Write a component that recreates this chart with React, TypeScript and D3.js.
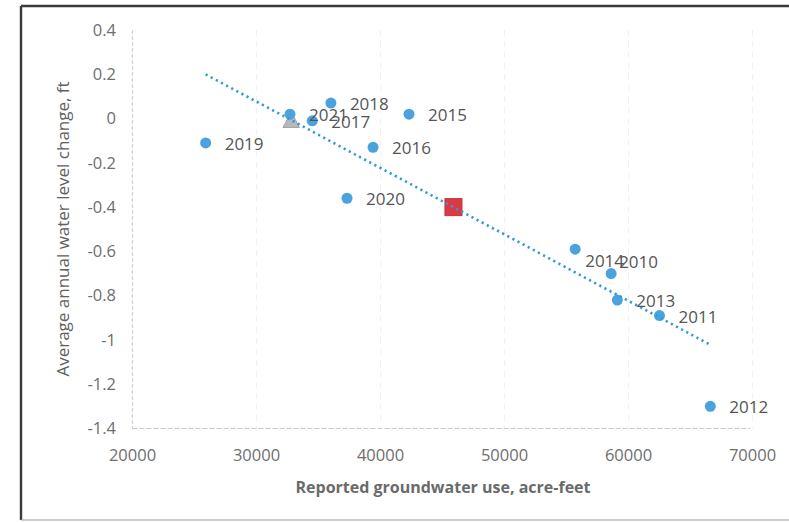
import React from "react";
import * as d3 from "d3";

const years = [2010, 2011, 2012, 2013, 2014, 2015, 2016, 2017, 2018, 2019, 2020, 2021];
const groundwaterUse = [58600, 62500, 66600, 59100, 55700, 42300, 39400, 34500, 36000, 25900, 37300, 32700];
const levelChange = [-0.70, -0.89, -1.30, -0.82, -0.59, 0.02, -0.13, -0.01, 0.07, -0.11, -0.36, 0.02];

const triangleUse = [32800];
const triangleChange = [-0.01];

const xTicks = [20000, 30000, 40000, 50000, 60000, 70000];
const yTicks = [0.4, 0.2, 0, -0.2, -0.4, -0.6, -0.8, -1, -1.2, -1.4];

const xTitle = "Reported groundwater use, acre-feet";
const yTitle = "Average annual water level change, ft";

// label placement (layout only)
const labelOffset: Record<number, [number, number]> = {
  2014: [10, 12],
  2010: [8, -11],
};

export default function App() {
  const W = 789, H = 523;
  const left = 132.5, right = 752.5, top = 30, bottom = 428.5;
  const x = d3.scaleLinear().domain([20000, 70000]).range([left, right]);
  const y = d3.scaleLinear().domain([-1.4, 0.4]).range([bottom, top]);

  const pts = years.map((yr, i) => ({ yr, u: groundwaterUse[i], c: levelChange[i] }));
  const mx = d3.mean(pts, (p) => p.u) as number;
  const my = d3.mean(pts, (p) => p.c) as number;
  const sxy = d3.sum(pts, (p) => (p.u - mx) * (p.c - my));
  const sxx = d3.sum(pts, (p) => (p.u - mx) ** 2);
  const slope = sxy / sxx;
  const intercept = my - slope * mx;
  const [xmin, xmax] = d3.extent(pts, (p) => p.u) as [number, number];
  const trend = d3.line<number>().x((v) => x(v)).y((v) => y(intercept + slope * v))([xmin, xmax]) as string;

  const font = "'Open Sans', 'Liberation Sans', sans-serif";
  const blue = "#4aa3de";

  const tri = (cx: number, cy: number, s: number) =>
    `M${cx},${cy - s * 0.6} L${cx + s * 0.55},${cy + s * 0.45} L${cx - s * 0.55},${cy + s * 0.45} Z`;

  return (
    <div style={{ position: "absolute", left: 0, top: 0 }}>
      <svg width={W} height={H} style={{ display: "block", background: "#fff" }}>
        <rect x={0} y={0} width={W} height={H} fill="#fff" />
        {/* frame */}
        <line x1={21} x2={W} y1={6} y2={6} stroke="#3a3a3a" strokeWidth={2.4} />
        <line x1={21} x2={21} y1={6} y2={520} stroke="#3a3a3a" strokeWidth={2.4} />
        <line x1={21} x2={W} y1={520} y2={520} stroke="#9a9a9a" strokeWidth={1.2} />

        {/* vertical gridlines */}
        {xTicks.slice(1).map((t) => (
          <line key={t} x1={x(t)} x2={x(t)} y1={top} y2={bottom} stroke="#f1f1f1" strokeWidth={1} strokeDasharray="6 5" />
        ))}
        {/* axes */}
        <line x1={left} x2={left} y1={top} y2={bottom} stroke="#d4d4d4" strokeWidth={1.2} strokeDasharray="4 2" />
        <line x1={left} x2={right - 2} y1={bottom} y2={bottom} stroke="#c8c8c8" strokeWidth={1.2} strokeDasharray="5 2" />

        {/* y tick labels */}
        {yTicks.map((t) => (
          <text key={t} x={116} y={y(t)} dy="0.35em" textAnchor="end" fontFamily={font} fontSize={16.5} fill="#6e6e6e">
            {String(+t.toFixed(1))}
          </text>
        ))}
        {/* x tick labels */}
        {xTicks.map((t) => (
          <text key={t} x={x(t)} y={455} dy="0.35em" textAnchor="middle" fontFamily={font} fontSize={16.5} fill="#6e6e6e">
            {t}
          </text>
        ))}

        {/* axis titles */}
        <text x={443} y={487} dy="0.35em" textAnchor="middle" fontFamily={font} fontSize={16} fontWeight="bold" fill="#6a6a6a">
          {xTitle}
        </text>
        <text transform={`translate(63,229) rotate(-90)`} dy="0.35em" textAnchor="middle" fontFamily={font} fontSize={17} fill="#606060">
          {yTitle}
        </text>

        {/* triangle marker */}
        {triangleUse.map((u, i) => (
          <path key={i} d={tri(x(u), y(triangleChange[i]), 15)} fill="#b8b8b8" stroke="#a5a5a5" strokeWidth={1} />
        ))}

        {/* points */}
        {pts.map((p) => (
          <circle key={p.yr} cx={x(p.u)} cy={y(p.c)} r={5.5} fill={blue} />
        ))}

        {/* mean square */}
        <rect x={x(mx) - 8.5} y={y(my) - 8.5} width={17} height={17} fill="#d93a44" stroke="#c8303a" strokeWidth={1} />

        {/* trendline */}
        <path d={trend} fill="none" stroke="#2f9bd8" strokeWidth={2.6} strokeDasharray="2.2 3.6" />

        {/* labels */}
        {pts.map((p) => {
          const [dx, dy] = labelOffset[p.yr] ?? [19, 1];
          return (
            <text key={p.yr} x={x(p.u) + dx} y={y(p.c) + dy} dy="0.35em" fontFamily={font} fontSize={17} fill="#555">
              {p.yr}
            </text>
          );
        })}
      </svg>
    </div>
  );
}
